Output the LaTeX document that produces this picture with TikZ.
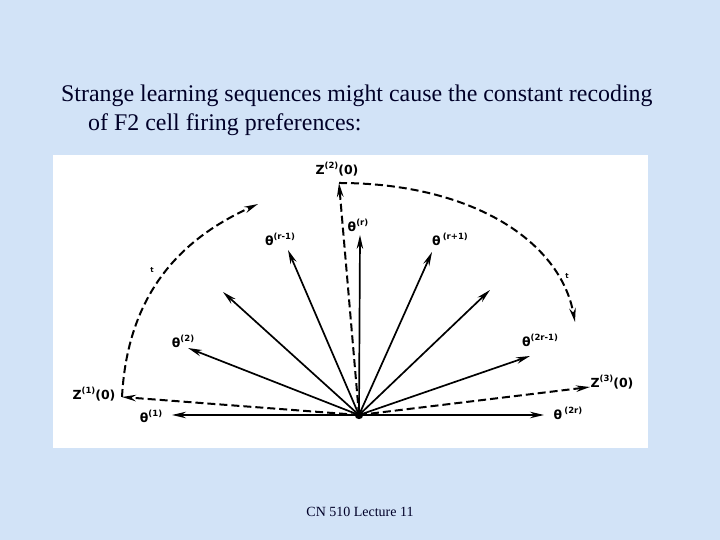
\documentclass[tikz,border=0pt]{standalone}
\usepackage{fontspec}
\setmainfont{Liberation Serif}
\newfontfamily\labfont{DejaVu Sans}
\usetikzlibrary{arrows.meta}
\definecolor{bgblue}{RGB}{210,227,247}
\definecolor{navy}{RGB}{0,0,40}
\newcommand\labsup[1]{\raisebox{0.85ex}{\fontsize{8.5}{9}\selectfont(#1)}}
\begin{document}
\begin{tikzpicture}[x=1pt,y=1pt,
  vec/.style={line width=1.7pt,-{Stealth[length=14pt,width=6.5pt]}},
  dvec/.style={line width=2pt,dash pattern=on 8pt off 4pt,-{Stealth[length=14pt,width=6.5pt]}},
  lab/.style={font=\labfont\bfseries\fontsize{12.5}{13}\selectfont,inner sep=0pt},
  tlab/.style={font=\labfont\bfseries\fontsize{7}{7}\selectfont,inner sep=0pt},
  slide/.style={text=navy,inner sep=0pt}]
\useasboundingbox (0,0) rectangle (720,540);
\fill[bgblue] (0,0) rectangle (720,540);
\fill[white] (53,92) rectangle (648,385);
% slide text
\node[slide,anchor=base west,font=\fontsize{23.9}{28}\selectfont] (l1) at (61,438) {Strange learning sequences might cause the constant recoding};
\node[slide,anchor=base west,font=\fontsize{23.9}{28}\selectfont] (l2) at (88,409) {of F2 cell firing preferences:};
\node[slide,anchor=base,font=\fontsize{14}{16}\selectfont] (foot) at (360,23) {CN 510 Lecture 11};
% centre
\coordinate (O) at (359,125);
% tips
\coordinate (t1) at (172,125);
\coordinate (t2) at (188,192);
\coordinate (t3) at (223,248);
\coordinate (t4) at (288,290);
\coordinate (t5) at (360,305);
\coordinate (t6) at (432,288);
\coordinate (t7) at (490,250);
\coordinate (t8) at (530,184);
\coordinate (t9) at (544,125);
\coordinate (z1) at (122,143);
\coordinate (z2) at (339,357);
\coordinate (z3) at (590,153);
\coordinate (a1) at (258,336);
\coordinate (a2) at (575,218);
% vectors
\foreach \t in {t1,t2,t3,t4,t5,t6,t7,t8,t9} \draw[vec] (O) -- (\t);
\draw[dvec] (O) -- (z1);
\draw[dvec] (O) -- (z2);
\draw[dvec] (O) -- (z3);
\fill (O) circle (4.2);
% arcs
\draw[dvec] (z1) .. controls (128,255) and (190,305) .. (a1);
\draw[dvec] (z2) .. controls (470,357) and (560,300) .. (a2);
% labels
\node[lab] (Lz2) at (337,371) {Z\labsup{2}(0)};
\node[lab] (Lr) at (358,315) {θ\labsup{r}};
\node[lab] (Lr1) at (280,301) {θ\labsup{r-1}};
\node[lab] (Lr2) at (450,301) {θ\,\labsup{r+1}};
\node[lab] (L2) at (183,199) {θ\labsup{2}};
\node[lab] (L2r1) at (540,200) {θ\labsup{2r-1}};
\node[lab] (Lz1) at (94,146) {Z\labsup{1}(0)};
\node[lab] (L1) at (151,124) {θ\labsup{1}};
\node[lab] (Lz3) at (612,158) {Z\labsup{3}(0)};
\node[lab] (L2r) at (568,127) {θ\,\labsup{2r}};
\node[tlab] (ta) at (152,270) {t};
\node[tlab] (tb) at (567,264) {t};
\end{tikzpicture}
\end{document}
